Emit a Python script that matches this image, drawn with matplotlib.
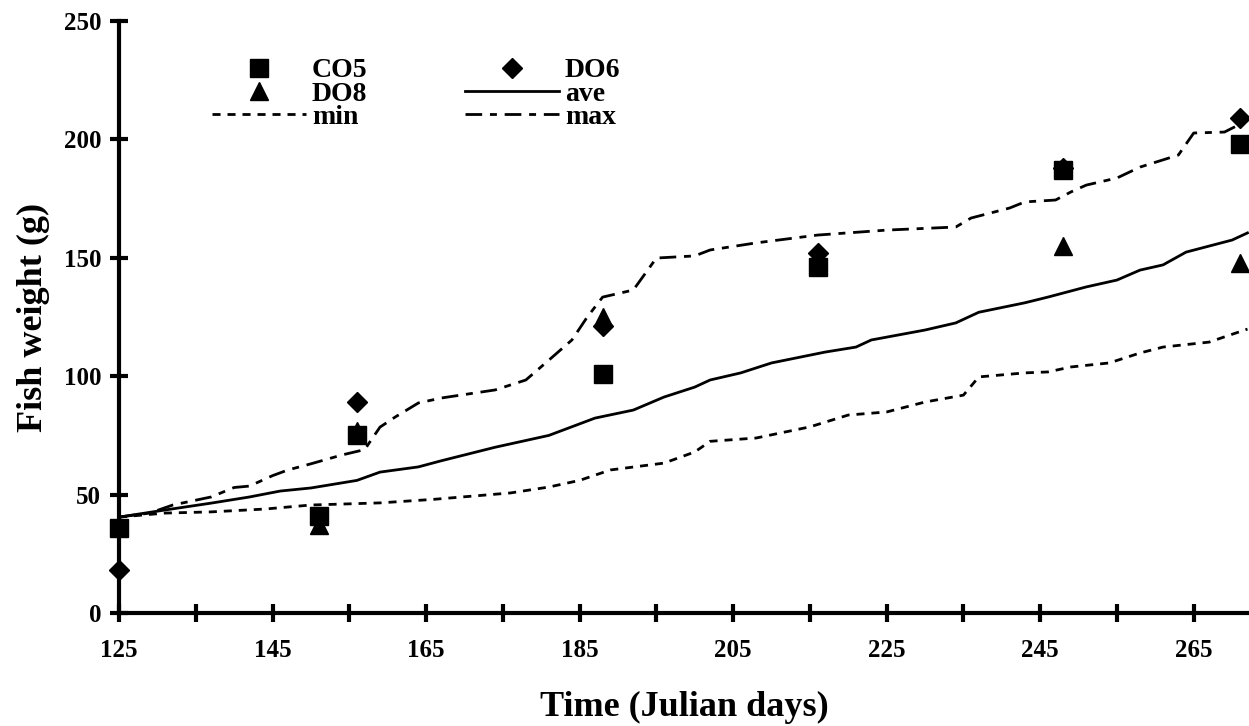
import matplotlib
matplotlib.use("Agg")
import matplotlib.pyplot as plt

plt.rcParams['font.family'] = ['Liberation Serif', 'DejaVu Serif']
plt.rcParams['font.weight'] = 'bold'

# Observed fish weights (g) by Julian day
co5_days = [125, 151, 156, 188, 216, 248, 271]
co5_wt = [36, 41, 75, 101, 146, 187, 198]
do6_days = [125, 156, 188, 216, 248, 271]
do6_wt = [18, 89, 121, 152, 188, 209]
do8_days = [151, 156, 188, 248, 271]
do8_wt = [37, 77, 125, 155, 148]

# Model curves
ave_days = [125, 131, 137, 142, 146, 150, 156, 159, 164, 167, 174, 181, 187, 192, 196, 200,
            202, 206, 210, 217, 221, 223, 230, 234, 237, 243, 246, 251, 255, 258, 261, 264, 270, 272]
ave_wt = [40.5, 43.5, 46.4, 49, 51.5, 52.8, 56, 59.5, 61.7, 64.3, 70, 75, 82.3, 85.7, 91.2, 95.4,
          98.4, 101.4, 105.6, 110.2, 112.3, 115.3, 119.5, 122.5, 127, 131, 133.4, 137.7, 140.6, 144.8,
          147, 152.4, 157.5, 160.5]
min_days = [125, 131, 137, 144, 150, 159, 166, 176, 181, 185, 189, 196, 200, 202, 208, 215, 220,
            225, 230, 235, 237, 243, 246, 249, 254, 258, 261, 267, 272]
min_wt = [40.5, 42.2, 42.7, 43.9, 45.6, 46.5, 48, 50.7, 53.2, 56, 60.4, 63.3, 68, 72.5, 73.9, 78.6,
          83.6, 84.9, 89.1, 92, 99.7, 101.4, 101.8, 103.9, 105.6, 109.8, 112.3, 114.4, 119.9]
max_days = [125, 129, 132, 137, 140, 142, 145, 147, 150, 154, 157, 159, 161, 164, 167, 174, 178,
            181, 184, 186, 188, 192, 195, 200, 202, 208, 216, 225, 234, 236, 241, 243, 247, 249,
            251, 255, 258, 263, 265, 269, 272]
max_wt = [40.5, 42.2, 45.6, 49, 53, 53.6, 58, 60.4, 63, 66.7, 69, 78.5, 82.8, 88.7, 90.8, 94.2, 98.4,
          106.8, 115.3, 125, 133.4, 136.4, 149.9, 150.8, 153.3, 156.3, 159.6, 161.7, 163, 166.8, 171,
          173.6, 174.4, 177.8, 180.7, 183.7, 188.3, 193.4, 202.7, 203.1, 208]

x_ticks = list(range(125, 266, 10))
x_labels = [str(t) if (t - 125) % 20 == 0 else '' for t in x_ticks]
y_ticks = [0, 50, 100, 150, 200, 250]

W, H = 1249, 726
fig = plt.figure(figsize=(W / 100, H / 100), dpi=100)
ax = fig.add_axes([119 / W, 1 - 613 / H, 1 - 119 / W, (613 - 21) / H])

lw = 2.0
l_min, = ax.plot(min_days, min_wt, color='black', lw=lw, dashes=(2.9, 2.5), label='min')
l_ave, = ax.plot(ave_days, ave_wt, color='black', lw=lw, label='ave')
l_max, = ax.plot(max_days, max_wt, color='black', lw=lw, dashes=(6.0, 2.8, 2.5, 2.8), label='max')

ms = 13.5
m_do8, = ax.plot(do8_days, do8_wt, ls='none', marker='^', ms=ms, color='black', clip_on=False, label='DO8', zorder=3)
m_do6, = ax.plot(do6_days, do6_wt, ls='none', marker='D', ms=ms * 0.72, color='black', clip_on=False, label='DO6', zorder=4)
m_co5, = ax.plot(co5_days, co5_wt, ls='none', marker='s', ms=ms, color='black', clip_on=False, label='CO5', zorder=5)

ax.set_xticks(x_ticks)
ax.set_xticklabels(x_labels)
ax.set_yticks(y_ticks)
ax.set_xlim(125, 272.2)
ax.set_ylim(0, 250)

for s in ['top', 'right']:
    ax.spines[s].set_visible(False)
for s in ['left', 'bottom']:
    ax.spines[s].set_linewidth(3.0)
ax.tick_params(axis='both', direction='inout', length=13.5, width=3.0, labelsize=18)
ax.tick_params(axis='y', pad=6)
ax.tick_params(axis='x', pad=12)
for lab in ax.get_xticklabels() + ax.get_yticklabels():
    lab.set_fontweight('bold')

ax.set_xlabel('Time (Julian days)', fontsize=26, fontweight='bold', labelpad=21)
ax.set_ylabel('Fish weight (g)', fontsize=26, fontweight='bold', labelpad=10)

leg = ax.legend(handles=[m_co5, m_do8, l_min, m_do6, l_ave, l_max], ncol=2, frameon=False,
                loc='upper left', bbox_to_anchor=(212 / W, 1 - 58 / H), bbox_transform=fig.transFigure,
                borderpad=0, borderaxespad=0, handlelength=3.4, handletextpad=0.2,
                columnspacing=3.5, labelspacing=-0.08, prop={'weight': 'bold', 'size': 20})

fig.savefig('out.png', dpi=100)
